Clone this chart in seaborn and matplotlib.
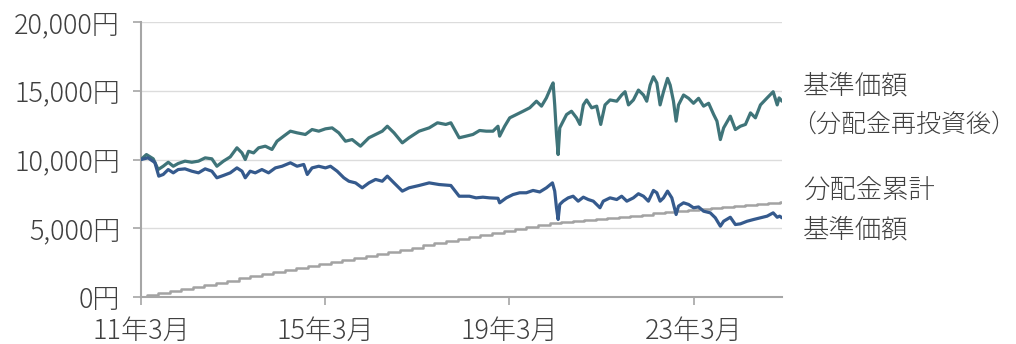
import matplotlib
matplotlib.use("Agg")
import matplotlib.pyplot as plt
import pandas as pd
import seaborn as sns

# ---- data ----
reinvest_dates = [
    "2011-03-01", "2011-04-13", "2011-06-06", "2011-07-15", "2011-08-24", "2011-10-03",
    "2011-11-12", "2011-12-21", "2012-02-13", "2012-04-07", "2012-05-30", "2012-07-22",
    "2012-09-13", "2012-10-23", "2012-12-14", "2013-02-06", "2013-03-31", "2013-05-10",
    "2013-06-05", "2013-07-01", "2013-08-10", "2013-09-19", "2013-11-11", "2014-01-03",
    "2014-02-12", "2014-04-06", "2014-05-29", "2014-07-21", "2014-09-25", "2014-11-17",
    "2015-01-09", "2015-03-03", "2015-04-25", "2015-06-17", "2015-08-09", "2015-10-01",
    "2015-12-06", "2016-02-11", "2016-04-04", "2016-05-27", "2016-07-06", "2016-08-28",
    "2016-11-02", "2016-12-25", "2017-03-15", "2017-06-03", "2017-08-08", "2017-10-13",
    "2017-11-22", "2018-01-27", "2018-03-24", "2018-05-16", "2018-07-08", "2018-08-30",
    "2018-10-22", "2018-12-01", "2018-12-14", "2019-01-23", "2019-03-04", "2019-04-26",
    "2019-06-18", "2019-08-10", "2019-10-02", "2019-11-11", "2019-12-20", "2020-01-29",
    "2020-02-11", "2020-02-24", "2020-03-09", "2020-03-22", "2020-04-04", "2020-05-01",
    "2020-05-28", "2020-07-06", "2020-08-15", "2020-09-11", "2020-10-08", "2020-11-03",
    "2020-12-13", "2021-01-22", "2021-02-23", "2021-03-29", "2021-05-08", "2021-06-30",
    "2021-08-08", "2021-09-04", "2021-10-01", "2021-11-09", "2021-12-19", "2022-01-28",
    "2022-02-23", "2022-03-22", "2022-04-17", "2022-05-14", "2022-06-09", "2022-07-06",
    "2022-08-07", "2022-08-28", "2022-09-23", "2022-10-14", "2022-11-02", "2022-12-12",
    "2023-01-21", "2023-03-01", "2023-04-10", "2023-05-20", "2023-06-29", "2023-08-08",
    "2023-09-03", "2023-09-30", "2023-10-26", "2023-12-18", "2024-01-27", "2024-03-07",
    "2024-04-16", "2024-05-26", "2024-07-04", "2024-08-13", "2024-10-05", "2024-11-22",
    "2024-12-24", "2025-01-08", "2025-01-31",
]
reinvest_values = [
    10000, 10360, 10050, 9270, 9510, 9800,
    9510, 9710, 9880, 9800, 9880, 10120,
    10050, 9510, 9880, 10190, 10850, 10480,
    10000, 10600, 10480, 10850, 10970, 10730,
    11330, 11700, 12060, 11940, 11820, 12180,
    12060, 12230, 12300, 11940, 11330, 11450,
    10970, 11580, 11820, 12060, 12420, 11940,
    11210, 11580, 12060, 12300, 12670, 12550,
    12670, 11580, 11700, 11820, 12110, 12060,
    12060, 12420, 11700, 12420, 13030, 13270,
    13510, 13760, 14240, 13880, 14480, 15330,
    15570, 13970, 11820, 10360, 12300, 12790,
    13270, 13510, 13030, 12550, 13970, 14330,
    13760, 13880, 12550, 13970, 14330, 14240,
    14690, 14930, 13970, 14330, 15050, 14690,
    14240, 15410, 16020, 15570, 13970, 14930,
    15900, 15410, 14240, 12790, 13970, 14690,
    14450, 14090, 14450, 13880, 14090, 13270,
    12790, 11450, 12300, 13150, 12180, 12420,
    12550, 13390, 13030, 13970, 14480, 14930,
    13970, 14480, 14240,
]

nav_dates = [
    "2011-03-01", "2011-04-26", "2011-06-19", "2011-07-20", "2011-08-24", "2011-10-03",
    "2011-11-12", "2011-12-21", "2012-02-13", "2012-04-07", "2012-05-30", "2012-07-22",
    "2012-09-13", "2012-10-23", "2012-12-14", "2013-02-06", "2013-03-31", "2013-05-10",
    "2013-06-05", "2013-07-14", "2013-08-23", "2013-10-15", "2013-12-07", "2014-01-30",
    "2014-03-24", "2014-05-29", "2014-07-21", "2014-09-12", "2014-10-10", "2014-11-17",
    "2015-01-09", "2015-03-03", "2015-04-12", "2015-06-04", "2015-07-27", "2015-09-05",
    "2015-10-28", "2015-12-20", "2016-02-11", "2016-04-04", "2016-05-27", "2016-07-06",
    "2016-08-28", "2016-11-02", "2016-12-25", "2017-03-15", "2017-06-03", "2017-08-21",
    "2017-11-22", "2018-01-27", "2018-04-18", "2018-06-10", "2018-08-03", "2018-09-25",
    "2018-12-01", "2018-12-14", "2019-02-05", "2019-03-30", "2019-05-22", "2019-07-14",
    "2019-09-05", "2019-10-28", "2019-12-20", "2020-02-06", "2020-02-24", "2020-03-09",
    "2020-03-22", "2020-04-04", "2020-05-01", "2020-06-10", "2020-07-19", "2020-08-28",
    "2020-10-08", "2020-11-16", "2020-12-26", "2021-02-17", "2021-03-15", "2021-05-08",
    "2021-06-30", "2021-08-08", "2021-09-18", "2021-11-09", "2021-12-19", "2022-01-28",
    "2022-03-08", "2022-04-17", "2022-05-14", "2022-06-09", "2022-07-06", "2022-08-07",
    "2022-09-10", "2022-10-14", "2022-11-02", "2022-12-12", "2023-01-21", "2023-03-01",
    "2023-04-10", "2023-05-20", "2023-07-12", "2023-08-21", "2023-09-30", "2023-10-26",
    "2023-12-18", "2024-01-27", "2024-03-07", "2024-04-29", "2024-06-21", "2024-08-13",
    "2024-10-05", "2024-11-22", "2024-12-24", "2025-01-12", "2025-01-31",
]
nav_values = [
    10000, 10120, 9780, 8790, 8910, 9270,
    9030, 9270, 9320, 9150, 9030, 9320,
    9150, 8670, 8840, 9030, 9390, 9150,
    8670, 9150, 9030, 9270, 9030, 9390,
    9510, 9760, 9510, 9640, 8910, 9390,
    9510, 9390, 9510, 9150, 8670, 8420,
    8300, 7940, 8300, 8550, 8420, 8790,
    8300, 7700, 7940, 8110, 8300, 8180,
    8110, 7330, 7330, 7210, 7260, 7210,
    7180, 6850, 7210, 7450, 7580, 7580,
    7750, 7640, 7940, 8300, 7700, 6490,
    5640, 6730, 6970, 7210, 7330, 6970,
    7260, 7090, 6970, 6490, 6970, 7210,
    7090, 7330, 6970, 7210, 7510, 7330,
    6970, 7750, 7580, 6970, 7210, 7700,
    7210, 6000, 6610, 6850, 6730, 6490,
    6550, 6240, 6120, 5760, 5150, 5510,
    5800, 5270, 5320, 5510, 5640, 5760,
    5880, 6120, 5800, 5880, 5760,
]

dist_dates = [
    "2011-03-01", "2011-04-15", "2011-07-15", "2011-10-15",
    "2012-01-15", "2012-04-15", "2012-07-15", "2012-10-15",
    "2013-01-15", "2013-04-15", "2013-07-15", "2013-10-15",
    "2014-01-15", "2014-04-15", "2014-07-15", "2014-10-15",
    "2015-01-15", "2015-04-15", "2015-07-15", "2015-10-15",
    "2016-01-15", "2016-04-15", "2016-07-15", "2016-10-15",
    "2017-01-15", "2017-04-15", "2017-07-15", "2017-10-15",
    "2018-01-15", "2018-04-15", "2018-07-15", "2018-10-15",
    "2019-01-15", "2019-04-15", "2019-07-15", "2019-10-15",
    "2020-01-15", "2020-04-15", "2020-07-15", "2020-10-15",
    "2021-01-15", "2021-04-15", "2021-07-15", "2021-10-15",
    "2022-01-15", "2022-04-15", "2022-07-15", "2022-10-15",
    "2023-01-15", "2023-04-15", "2023-07-15", "2023-10-15",
    "2024-01-15", "2024-04-15", "2024-07-15", "2024-10-15",
    "2025-01-15", "2025-01-31",
]
dist_cumulative = [
    0, 150, 300, 450,
    600, 750, 900, 1050,
    1200, 1350, 1500, 1650,
    1800, 1950, 2100, 2250,
    2400, 2550, 2700, 2850,
    3000, 3150, 3300, 3450,
    3600, 3750, 3900, 4050,
    4200, 4350, 4500, 4650,
    4800, 4950, 5100, 5250,
    5400, 5475, 5550, 5625,
    5700, 5775, 5850, 5925,
    6000, 6075, 6150, 6225,
    6300, 6375, 6450, 6525,
    6600, 6675, 6750, 6825,
    6900, 6900,
]

tick_dates = ["2011-03-01", "2015-03-01", "2019-03-01", "2023-03-01"]
tick_labels = ["11年3月", "15年3月", "19年3月", "23年3月"]
y_ticks = [0, 5000, 10000, 15000, 20000]

label_reinvest_1 = "基準価額"
label_reinvest_2 = "（分配金再投資後）"
label_dist = "分配金累計"
label_nav = "基準価額"

# ---- styling ----
sns.set_theme(style="white")
plt.rcParams["font.family"] = ["Noto Sans CJK JP", "DejaVu Sans"]
plt.rcParams["font.weight"] = "light"

TEXT = "#404040"
TEAL = "#3f7479"
BLUE = "#355a8d"
GRAY = "#a3a3a3"
AXIS = "#a6a6a6"

reinvest_df = pd.DataFrame({"date": pd.to_datetime(reinvest_dates), "value": reinvest_values})
nav_df = pd.DataFrame({"date": pd.to_datetime(nav_dates), "value": nav_values})
dist_df = pd.DataFrame({"date": pd.to_datetime(dist_dates), "value": dist_cumulative})

fig = plt.figure(figsize=(10.16, 3.44), dpi=100)
ax = fig.add_axes([141 / 1016, 1 - 297 / 344, (782 - 141) / 1016, (297 - 22) / 344])

ax.set_ylim(0, 20000)
ax.set_yticks(y_ticks)
ax.grid(axis="y", color="#dcdcdc", linewidth=1.0)
ax.grid(axis="x", visible=False)
ax.set_axisbelow(True)

sns.lineplot(data=dist_df, x="date", y="value", ax=ax, color=GRAY,
             linewidth=1.8, drawstyle="steps-post", zorder=2)
sns.lineplot(data=reinvest_df, x="date", y="value", ax=ax, color=TEAL,
             linewidth=2.3, zorder=3)
sns.lineplot(data=nav_df, x="date", y="value", ax=ax, color=BLUE,
             linewidth=2.3, zorder=4)

ax.set_xlim(pd.Timestamp("2011-03-01"), pd.Timestamp("2025-01-31"))
ax.set_xticks(pd.to_datetime(tick_dates))
ax.set_xticklabels(tick_labels)
ax.set_yticklabels([f"{v:,}円" for v in y_ticks])
ax.set_xlabel("")
ax.set_ylabel("")

for s in ["top", "right"]:
    ax.spines[s].set_visible(False)
for s in ["left", "bottom"]:
    ax.spines[s].set_color(AXIS)
    ax.spines[s].set_linewidth(1.5)

ax.tick_params(axis="y", length=6, width=1.2, color=AXIS, pad=9,
               labelsize=19.5, labelcolor=TEXT, left=True)
ax.tick_params(axis="x", length=6, width=1.2, color=AXIS, pad=8,
               labelsize=19.5, labelcolor=TEXT, bottom=True)

fs = 19
fig.text(803 / 1016, 1 - 86 / 344, label_reinvest_1, fontsize=fs, color=TEXT,
         ha="left", va="center")
fig.text(791 / 1016, 1 - 124 / 344, label_reinvest_2, fontsize=18, color=TEXT,
         ha="left", va="center")
fig.text(803 / 1016, 1 - 190 / 344, label_dist, fontsize=fs, color=TEXT,
         ha="left", va="center")
fig.text(803 / 1016, 1 - 229 / 344, label_nav, fontsize=fs, color=TEXT,
         ha="left", va="center")

fig.savefig("out.png", dpi=100)
